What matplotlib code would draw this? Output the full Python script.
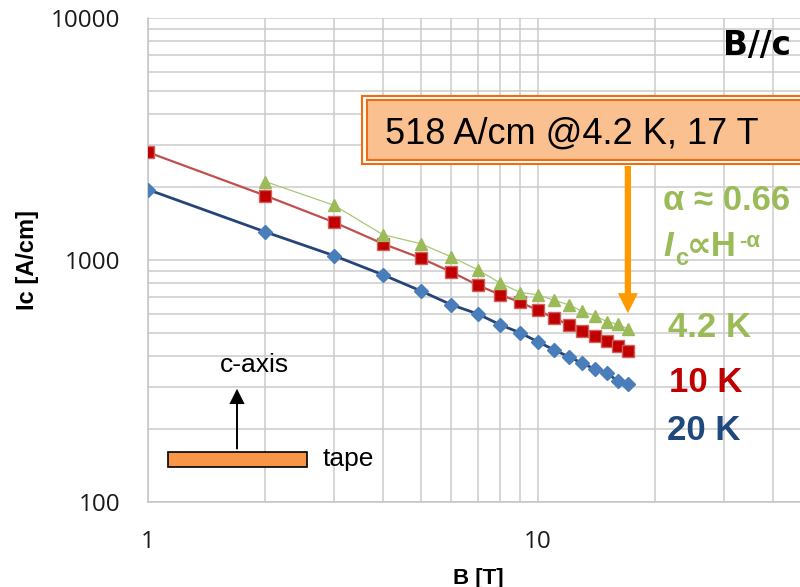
import numpy as np
import matplotlib
matplotlib.use('Agg')
import matplotlib.pyplot as plt
from matplotlib.patches import Rectangle, FancyArrowPatch
from matplotlib.ticker import LogLocator, NullFormatter, FixedLocator, FixedFormatter

# Ic vs field, B parallel to c
field_20K = [1, 2, 3, 4, 5, 6, 7, 8, 9, 10, 11, 12, 13, 14, 15, 16, 17]
ic_20K = [1954, 1306, 1042, 869, 746, 653, 599, 540, 500, 459, 425, 398, 374, 354, 342, 316, 307]

field_10K = [1, 2, 3, 4, 5, 6, 7, 8, 9, 10, 11, 12, 13, 14, 15, 16, 17]
ic_10K = [2787, 1845, 1432, 1168, 1019, 892, 788, 718, 670, 619, 575, 540, 511, 486, 464, 442, 421]

field_4K = [2, 3, 4, 5, 6, 7, 8, 9, 10, 11, 12, 13, 14, 15, 16, 17]
ic_4K = [2109, 1683, 1273, 1168, 1029, 912, 803, 734, 718, 681, 653, 613, 588, 557, 543, 518]

x_ticks = [1, 10]
x_ticklabels = ['1', '10']
y_ticks = [100, 1000, 10000]
y_ticklabels = ['100', '1000', '10000']

W, H = 800, 587

def fx(px):
    return px / W

def fy(py):
    return 1 - py / H

plt.rcParams['font.family'] = ['Liberation Sans', 'DejaVu Sans']

fig = plt.figure(figsize=(W / 100, H / 100), dpi=100)
ax = fig.add_axes([fx(148), fy(502), (W - 148) / W, (502 - 18) / H])

ax.plot(field_20K, ic_20K, color='#264478', lw=2.0, marker='D', ms=7,
        mfc='#4A7EBB', mec='#4A7EBB', zorder=3)
ax.plot(field_10K, ic_10K, color='#C0504D', lw=1.6, marker='s', ms=8.3,
        mfc='#C00000', mec='#D0605C', mew=1.0, zorder=4)
ax.plot(field_4K, ic_4K, color='#A9C77A', lw=0.9, marker='^', ms=9.3,
        mfc='#9BBB59', mec='#9BBB59', zorder=5)

ax.set_xscale('log')
ax.set_yscale('log')
ax.set_xlim(1, 10 ** ((W - 148) / 390))
ax.set_ylim(100, 10000)

ax.xaxis.set_major_locator(FixedLocator(x_ticks))
ax.xaxis.set_major_formatter(FixedFormatter(x_ticklabels))
ax.xaxis.set_minor_locator(LogLocator(base=10, subs=np.arange(2, 10)))
ax.xaxis.set_minor_formatter(NullFormatter())
ax.yaxis.set_major_locator(FixedLocator(y_ticks))
ax.yaxis.set_major_formatter(FixedFormatter(y_ticklabels))
ax.yaxis.set_minor_locator(LogLocator(base=10, subs=np.arange(2, 10)))
ax.yaxis.set_minor_formatter(NullFormatter())

ax.grid(True, which='both', color='#CCCCCC', lw=1.1)
ax.set_axisbelow(True)
ax.tick_params(which='both', length=0)
ax.tick_params(axis='y', pad=20)
ax.tick_params(axis='x', pad=20)
for lab in ax.get_xticklabels() + ax.get_yticklabels():
    lab.set_fontfamily('Open Sans')
    lab.set_fontsize(17.5)
    lab.set_color('#1A1A1A')
for side in ['top', 'right']:
    ax.spines[side].set_visible(False)
for side in ['left', 'bottom']:
    ax.spines[side].set_color('#C4C4C4')
    ax.spines[side].set_linewidth(1.1)

ax.set_xlabel('B [T]', fontsize=16, fontweight='bold')
ax.xaxis.set_label_coords((478 - 148) / 652, (502 - 568) / 484)
ax.set_ylabel('Ic [A/cm]', fontsize=17, fontweight='bold')
ax.yaxis.set_label_coords((39 - 148) / 652, 0.5)

# orientation header
fig.text(fx(723), fy(55), 'B//c', fontsize=23.5, fontweight='bold',
         family='DejaVu Sans', color='black')

# callout box with double orange border
fig.patches.append(Rectangle((fx(362), fy(164.5)), fx(480), (164.5 - 96) / H,
                             transform=fig.transFigure, facecolor='white',
                             edgecolor='#F26B0F', lw=1.5, zorder=6))
fig.patches.append(Rectangle((fx(367), fy(160)), fx(480), (160 - 100.5) / H,
                             transform=fig.transFigure, facecolor='#FAC090',
                             edgecolor='#F26B0F', lw=1.5, zorder=7))
fig.text(fx(385), fy(143.5), '518 A/cm @4.2 K, 17 T', fontsize=26,
         color='black', zorder=8)

# arrow from the callout down to the 4.2 K point at 17 T
ax.annotate('', xy=(field_4K[-1], ic_4K[-1]), xycoords='data',
            xytext=(field_4K[-1], fy(166)), textcoords=('data', 'figure fraction'),
            arrowprops=dict(arrowstyle='simple,head_length=1.44,head_width=1.44,tail_width=0.45',
                            mutation_scale=10, color='#FF9900', lw=0,
                            shrinkA=0, shrinkB=11.5),
            annotation_clip=False, zorder=9)

# power-law exponent note
green = '#9BBB59'
fig.text(fx(663), fy(210), 'α ≈ 0.66', fontsize=25, fontweight='bold', color=green)
fig.text(fx(663), fy(256), 'I', fontsize=25, fontweight='bold', style='italic', color=green)
fig.text(fx(675), fy(265), 'c', fontsize=17, fontweight='bold', color=green)
fig.text(fx(687), fy(256), '∝H', fontsize=25, fontweight='bold', color=green)
fig.text(fx(739), fy(247), '-α', fontsize=16, fontweight='bold', color=green)

fig.text(fx(668), fy(337), '4.2 K', fontsize=25, fontweight='bold', color=green)
fig.text(fx(669), fy(392), '10 K', fontsize=25, fontweight='bold', color='#C00000')
fig.text(fx(667), fy(440), '20 K', fontsize=25, fontweight='bold', color='#1F497D')

# sketch of tape and c-axis
fig.patches.append(Rectangle((fx(168), fy(467)), (307 - 168) / W, 15 / H,
                             transform=fig.transFigure, facecolor='#F79646',
                             edgecolor='black', lw=1.2, zorder=6))
fig.patches.append(FancyArrowPatch(
    (fx(237), fy(452)), (fx(237), fy(386)), transform=fig.transFigure,
    arrowstyle='simple,head_length=1.1,head_width=1.1,tail_width=0.14',
    mutation_scale=10, color='black', lw=0, zorder=6))
fig.text(fx(254), fy(372), 'c-axis', fontsize=19, ha='center', color='black')
fig.text(fx(323), fy(466), 'tape', fontsize=19, color='black')

fig.savefig('out.png', dpi=100)
